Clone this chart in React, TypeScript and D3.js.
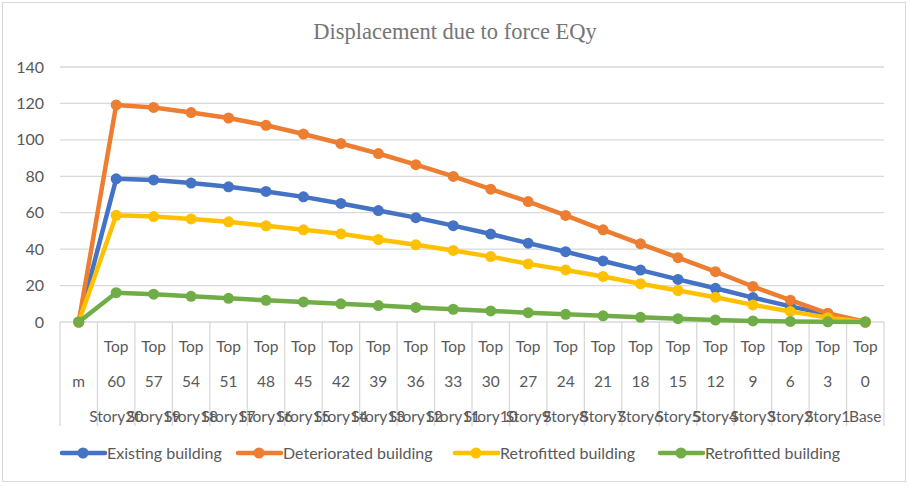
import React from "react";
import * as d3 from "d3";

// category levels (multi-level axis, top to bottom)
const levelTop = ["", "Top", "Top", "Top", "Top", "Top", "Top", "Top", "Top", "Top", "Top", "Top", "Top", "Top", "Top", "Top", "Top", "Top", "Top", "Top", "Top", "Top"];
const levelHeight = ["m", "60", "57", "54", "51", "48", "45", "42", "39", "36", "33", "30", "27", "24", "21", "18", "15", "12", "9", "6", "3", "0"];
const levelStory = ["", "Story20", "Story19", "Story18", "Story17", "Story16", "Story15", "Story14", "Story13", "Story12", "Story11", "Story10", "Story9", "Story8", "Story7", "Story6", "Story5", "Story4", "Story3", "Story2", "Story1", "Base"];

const existing = [0, 78.6, 78, 76.3, 74.2, 71.7, 68.7, 65.1, 61.2, 57.3, 52.9, 48.3, 43.3, 38.6, 33.5, 28.5, 23.4, 18.5, 13.4, 8.6, 4.2, 0];
const deteriorated = [0, 119.2, 117.8, 115, 112, 108, 103.2, 98, 92.5, 86.4, 79.9, 72.9, 66.1, 58.5, 50.6, 42.9, 35.3, 27.6, 19.5, 12, 4.8, 0];
const retrofitted = [0, 58.6, 57.9, 56.6, 55, 52.8, 50.6, 48.4, 45.3, 42.4, 39.3, 35.9, 31.9, 28.6, 25, 21, 17.3, 13.6, 9.4, 5.8, 2.4, 0];
const retrofitted2 = [0, 16.1, 15.3, 14.1, 13, 11.9, 11, 10, 9, 8, 7, 6.1, 5.1, 4.2, 3.4, 2.6, 1.8, 1.1, 0.6, 0.3, 0.1, 0];

const yTicks = [0, 20, 40, 60, 80, 100, 120, 140];

const series = [
  { name: "Existing building", color: "#4472C4", values: existing },
  { name: "Deteriorated building", color: "#ED7D31", values: deteriorated },
  { name: "Retrofitted building", color: "#FFC000", values: retrofitted },
  { name: "Retrofitted building", color: "#70AD47", values: retrofitted2 },
];

const W = 909;
const H = 487;
const left = 60;
const right = 884;
const top = 67;
const bottom = 322;
const textColor = "#595959";
const gridColor = "#d9d9d9";
const font = "Lato, 'Noto Sans', sans-serif";

export default function App() {
  const x = d3
    .scaleBand<number>()
    .domain(levelHeight.map((_, i) => i))
    .range([left, right])
    .paddingInner(0)
    .paddingOuter(0);
  const cx = (i: number) => (x(i) ?? 0) + x.bandwidth() / 2;

  const y = d3.scaleLinear().domain([0, 140]).range([bottom, top]);

  const line = d3
    .line<number>()
    .x((_, i) => cx(i))
    .y((d) => y(d));

  const legendX = [62, 238, 455, 660];

  return (
    <svg
      width={W}
      height={H}
      style={{ position: "absolute", left: 0, top: 0, background: "#fff" }}
      fontFamily={font}
    >
      <rect x={2.5} y={2.5} width={903} height={479} fill="#fff" stroke={gridColor} />

      <text
        x={455}
        y={39}
        textAnchor="middle"
        fontFamily="'Liberation Serif', 'Times New Roman', serif"
        fontSize={22.5}
        fill="#757575"
      >
        Displacement due to force EQy
      </text>

      {/* gridlines + y labels */}
      {yTicks.map((t) => (
        <g key={t}>
          <line x1={left} x2={right} y1={y(t)} y2={y(t)} stroke={gridColor} strokeWidth={1.3} />
          <text x={44} y={y(t) + 5.5} textAnchor="end" fontSize={16} fill={textColor}>
            {t}
          </text>
        </g>
      ))}

      {/* category dividers */}
      {d3.range(levelHeight.length + 1).map((i) => {
        const xx = i < levelHeight.length ? x(i) ?? 0 : right;
        return (
          <line key={i} x1={xx} x2={xx} y1={bottom} y2={426} stroke={gridColor} strokeWidth={1.3} />
        );
      })}

      {/* category labels */}
      {levelHeight.map((_, i) => (
        <g key={i} fontSize={15.5} fill={textColor} textAnchor="middle">
          <text x={cx(i)} y={352}>{levelTop[i]}</text>
          <text x={cx(i)} y={387}>{levelHeight[i]}</text>
          <text x={cx(i)} y={422}>{levelStory[i]}</text>
        </g>
      ))}

      {/* series */}
      {series.map((s, k) => (
        <g key={k}>
          <path d={line(s.values) ?? ""} fill="none" stroke={s.color} strokeWidth={4.5} strokeLinejoin="round" strokeLinecap="round" />
          {s.values.map((v, i) => (
            <circle key={i} cx={cx(i)} cy={y(v)} r={5.5} fill={s.color} />
          ))}
        </g>
      ))}

      {/* legend */}
      {series.map((s, k) => (
        <g key={k} transform={`translate(${legendX[k]},453)`}>
          <line x1={0} x2={43} y1={0} y2={0} stroke={s.color} strokeWidth={4.5} strokeLinecap="round" />
          <circle cx={21} cy={0} r={5.5} fill={s.color} />
          <text x={45} y={5.5} fontSize={16} fill={textColor}>
            {s.name}
          </text>
        </g>
      ))}
    </svg>
  );
}
